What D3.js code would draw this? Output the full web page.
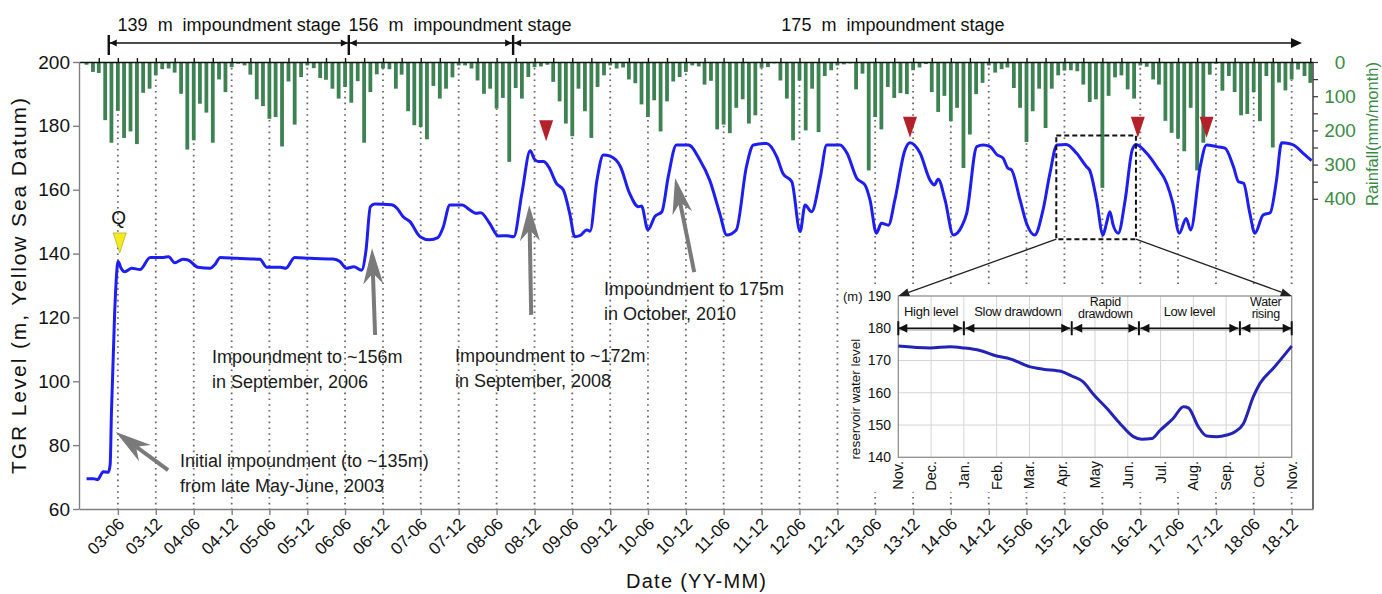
<!DOCTYPE html>
<html>
<head>
<meta charset="utf-8">
<script src="https://cdn.jsdelivr.net/npm/d3@7"></script>
<style>
  body { margin: 0; background: #fff; }
  svg { font-family: "Liberation Sans", Arial, sans-serif; }
</style>
</head>
<body>
<div id="svg-area"></div>
<script>
// monthly rainfall (mm/month), Jan 2003 .. Mar 2019, one row per year
var rainfall = [
    8, 29, 32, 170, 236, 143, 222, 203, 240, 90, 78, 39,      // 2003
    21, 19, 31, 93, 256, 229, 122, 148, 236, 51, 88, 15,      // 2004
    5, 10, 37, 109, 129, 166, 161, 247, 57, 183, 44, 10,      // 2005
    18, 47, 52, 78, 107, 73, 119, 56, 236, 88, 36, 19,        // 2006
    21, 78, 37, 144, 185, 190, 226, 70, 107, 78, 45, 10,      // 2007
    10, 19, 54, 93, 78, 136, 105, 292, 76, 107, 44, 15,       // 2008
    13, 8, 58, 115, 180, 217, 78, 144, 222, 73, 39, 10,       // 2009
    19, 16, 51, 62, 124, 161, 112, 203, 115, 57, 44, 29,      // 2010
    10, 13, 66, 55, 197, 183, 208, 134, 109, 180, 156, 17,    // 2011
    15, 4, 54, 107, 229, 54, 200, 78, 205, 41, 24, 10,        // 2012
    7, 4, 80, 34, 317, 161, 197, 73, 105, 91, 94, 24,         // 2013
    16, 6, 88, 146, 99, 173, 134, 310, 212, 94, 61, 10,       // 2014
    31, 21, 16, 76, 134, 234, 144, 78, 193, 78, 39, 25,       // 2015
    24, 27, 66, 117, 109, 368, 99, 45, 39, 80, 107, 10,       // 2016
    14, 51, 66, 172, 207, 224, 261, 134, 317, 236, 37, 5,     // 2017
    84, 41, 88, 156, 152, 88, 173, 41, 250, 60, 83, 51,       // 2018
    22, 41, 61                                                // 2019
];

// reservoir level: [months since Jan 2003, level (m)]
var levelPoints = [
    [0, 69.5], [1.1, 69.5], [1.8, 69.2], [2.7, 71.7], [3.5, 71.5], [3.8, 74], [4.0, 90],
    [4.5, 121.4], [5.05, 137.5], [5.5, 135.5], [6.1, 134.3], [7.2, 135.4], [8.5, 135.0],
    [10.1, 138.8], [12.2, 138.8], [13.0, 139.0], [14.0, 137.1], [15.3, 138.2], [16.1, 138.0],
    [17.7, 135.7], [19.6, 135.4], [20.3, 136.5], [21.2, 138.8], [23.8, 138.5], [27.5, 138.2],
    [28.6, 135.7], [30.7, 135.7], [31.6, 135.4], [33.0, 138.8], [35.4, 138.5], [39.1, 138.3],
    [40.2, 137.5], [41.2, 135.4], [42.4, 135.9], [43.6, 134.8], [44.3, 141], [45.0, 154.7],
    [45.7, 155.5], [48.3, 155.3], [49.2, 154.2], [50.2, 151.6], [51.3, 150], [52.9, 145.3],
    [54.4, 144.3], [55.7, 145], [56.5, 148], [57.6, 155.2], [59.6, 155.2], [60.5, 154],
    [61.8, 152.6], [62.5, 152.8], [63.9, 149.5], [65.3, 145.5], [66.6, 145.6], [67.7, 145.3],
    [69.0, 158.9], [70.3, 172.2], [71.0, 169.5], [71.6, 168.8], [72.4, 168.8], [73.2, 167.2],
    [74.5, 162], [75.6, 159.9], [76.6, 152.6], [77.4, 145.3], [78.2, 145.6], [79.3, 147.4],
    [79.8, 147], [80.9, 163], [81.9, 170.9], [83.0, 170.5], [84.6, 167.2], [86.1, 158.9],
    [87.5, 154.7], [88.0, 154.9], [89.0, 147.4], [90.1, 151.6], [91.2, 153.1], [92.2, 164.1],
    [93.5, 174], [95.4, 174], [97.2, 169.3], [98.8, 163], [100.4, 152.6], [101.5, 145.8],
    [103.0, 147.4], [104.6, 167.2], [105.7, 174], [107.8, 174.5], [109.4, 170.3], [110.4, 165.1],
    [111.8, 162.5], [113.1, 146.9], [113.9, 155.2], [114.9, 153.1], [116.3, 164.1], [117.3, 174],
    [119.4, 174], [120.5, 171.4], [122.1, 163.6], [123.4, 161.5], [124.2, 156.8], [125.2, 146.4],
    [126.0, 149.5], [127.1, 148.9], [128.1, 156.8], [129.7, 172.4], [130.5, 174.7], [132.1, 171.4],
    [133.7, 163], [134.4, 161.5], [135.0, 163.3], [136.1, 156.8], [137.4, 145.8], [138.7, 148.4],
    [139.5, 152.6], [141.1, 173.5], [142.1, 174], [143.2, 173.5], [144.3, 170.9], [145.2, 170],
    [146.1, 166.7], [146.6, 166.3], [148.0, 156.8], [149.0, 149.5], [150.3, 145.8], [151.6, 153.6],
    [152.7, 165.1], [153.8, 174], [155.3, 174.2], [156.9, 171.4], [158.5, 167.2], [159.0, 166.1],
    [160.1, 156.8], [161.1, 145.8], [161.6, 149], [162.2, 153.1], [162.7, 149], [163.5, 146.4],
    [164.6, 156.8], [165.7, 172.4], [166.3, 174.2], [168.0, 171.4], [169.6, 167.2], [171.2, 162],
    [172.2, 155.7], [173.2, 146.4], [174.3, 151], [175.0, 147.4], [176.5, 167.2], [177.5, 174],
    [179.1, 173.5], [180.4, 173], [181.8, 167.2], [182.6, 162.5], [183.4, 162], [184.4, 152.6],
    [185.2, 146.4], [186.5, 152.1], [187.6, 152.8], [188.6, 163], [189.4, 174.7], [190.7, 174.4],
    [191.3, 174], [192.8, 171.4], [194.2, 169.1]
];

// inset: one hydrological year, [months since Nov 2015, level (m)]
var insetPoints = [
    [0, 174.5], [0.97, 173.9], [1.58, 174.3], [2.0, 173.9], [2.49, 173.1], [3.0, 171.4],
    [3.41, 170.5], [4.0, 168.1], [4.42, 167.3], [4.98, 166.6], [5.29, 165.2], [5.64, 163.4],
    [5.97, 159.3], [6.36, 155.2], [6.76, 150.5], [7.17, 146.4], [7.42, 145.6], [7.73, 145.8],
    [7.98, 148.3], [8.39, 152.1], [8.7, 155.7], [8.85, 155.3], [9.15, 149.5], [9.41, 146.6],
    [9.71, 146.4], [10.02, 146.9], [10.27, 147.9], [10.53, 150.5], [10.83, 158.8], [11.03, 162.9],
    [11.44, 167.6], [12, 174.5]
];
var insetMonths = ["Nov.", "Dec.", "Jan.", "Feb.", "Mar.", "Apr.", "May", "Jun.", "Jul.", "Aug.", "Sep.", "Oct.", "Nov."];
var phaseBounds = [0, 2, 5.29, 7.34, 10.42, 12];
var phaseLabels = [["High level"], ["Slow drawdown"], ["Rapid", "drawdown"], ["Low level"], ["Water", "rising"]];

// impoundment stages (months since Jan 2003)
var stageLabels = ["139  m  impoundment stage", "156  m  impoundment stage", "175  m  impoundment stage"];
var stageBounds = [3.57, 41.6, 67.6, 192.6];
var stageLabelPos = [22.6, 59.2, 127.8];

// markers: [month, level at tip]
var redMarkers = [[72.8, 175.2], [130.5, 176.3], [166.6, 176.3], [177.5, 176.3]];
var yellowMarker = [5.3, 140.2];

// ---------------------------------------------------------------
var svgWidth = 1382;
var svgHeight = 594;
var plot = { left: 79, right: 1313, top: 62, bottom: 509 };

var svg = d3.select("#svg-area").append("svg")
    .attr("width", svgWidth)
    .attr("height", svgHeight);

// month index -> Date
function monthDate(t) {
    var m = Math.floor(t);
    var a = new Date(2003, m, 1), b = new Date(2003, m + 1, 1);
    return new Date(+a + (t - m) * (b - a));
}

var x = d3.scaleTime()
    .domain([monthDate(-1.18), monthDate(194.42)])
    .range([plot.left, plot.right]);
var yLevel = d3.scaleLinear().domain([60, 200]).range([plot.bottom, plot.top]);
var yRain = d3.scaleLinear().domain([0, 1307]).range([plot.top, plot.bottom]);
var xm = t => x(monthDate(t));

var halfYearTicks = d3.range(5, 192, 6).map(monthDate);

// dotted guides
svg.append("g").selectAll("line")
    .data(halfYearTicks)
    .enter().append("line")
    .attr("x1", d => x(d)).attr("x2", d => x(d))
    .attr("y1", plot.top).attr("y2", plot.bottom)
    .attr("stroke", "#666")
    .attr("stroke-width", 1.8)
    .attr("stroke-dasharray", "1.6 4.2");

// rainfall bars
svg.append("g").selectAll("rect")
    .data(rainfall)
    .enter().append("rect")
    .attr("x", (d, i) => xm(i) - 1.9)
    .attr("y", plot.top)
    .attr("width", 3.8)
    .attr("height", d => yRain(d) - plot.top)
    .attr("fill", "#3e8253");

// top axis
svg.append("g")
    .attr("transform", `translate(0, ${plot.top})`)
    .call(d3.axisTop(x).tickValues(d3.range(2, 195, 3).map(monthDate)).tickSize(4).tickSizeOuter(0).tickFormat(""))
    .call(g => g.selectAll("path, line").attr("stroke", "#111").attr("stroke-width", 1.4));

// left axis
svg.append("g")
    .attr("transform", `translate(${plot.left}, 0)`)
    .call(d3.axisLeft(yLevel).tickValues(d3.range(60, 201, 20)).tickSize(6).tickSizeOuter(0))
    .call(g => g.selectAll("path, line").attr("stroke", "#808080").attr("stroke-width", 1.4))
    .call(g => g.selectAll("text").attr("font-size", 19).attr("fill", "#111").attr("x", -9));

// bottom axis
svg.append("g")
    .attr("transform", `translate(0, ${plot.bottom})`)
    .call(d3.axisBottom(x).tickValues(halfYearTicks).tickSize(6).tickSizeOuter(0).tickFormat(d3.timeFormat("%y-%m")))
    .call(g => g.selectAll("path, line").attr("stroke", "#808080").attr("stroke-width", 1.4))
    .call(g => g.selectAll("text")
        .attr("font-size", 17)
        .attr("fill", "#111")
        .attr("text-anchor", "end")
        .attr("y", 0).attr("dy", 0)
        .attr("transform", "translate(7, 16) rotate(-45)"));

// right axis
svg.append("line")
    .attr("x1", plot.right).attr("x2", plot.right)
    .attr("y1", plot.top).attr("y2", plot.bottom)
    .attr("stroke", "#333").attr("stroke-width", 1.4);
svg.append("g")
    .attr("transform", `translate(${plot.right}, 0)`)
    .call(d3.axisRight(yRain).tickValues(d3.range(0, 401, 50)).tickSize(5)
        .tickFormat(d => d % 100 === 0 ? d : ""))
    .call(g => g.select(".domain").remove())
    .call(g => g.selectAll("line").attr("stroke", "#333").attr("stroke-width", 1.2))
    .call(g => g.selectAll("text").attr("font-size", 19).attr("fill", "#3c8a45")
        .attr("text-anchor", "middle").attr("x", 27));

// axis titles
svg.append("text")
    .attr("transform", "translate(26, 286) rotate(-90)")
    .attr("text-anchor", "middle")
    .attr("font-size", 21)
    .attr("fill", "#111")
    .attr("textLength", 376)
    .attr("lengthAdjust", "spacing")
    .text("TGR Level (m, Yellow Sea Datum)");

svg.append("text")
    .attr("x", 696).attr("y", 588)
    .attr("text-anchor", "middle")
    .attr("font-size", 20)
    .attr("fill", "#111")
    .attr("textLength", 140)
    .attr("lengthAdjust", "spacing")
    .text("Date (YY-MM)");

svg.append("text")
    .attr("transform", "translate(1378, 134) rotate(-90)")
    .attr("text-anchor", "middle")
    .attr("font-size", 16.5)
    .attr("fill", "#3c8a45")
    .text("Rainfall(mm/month)");

// water level line
var levelLine = d3.line()
    .x(d => xm(d[0]))
    .y(d => yLevel(d[1]))
    .curve(d3.curveMonotoneX);

svg.append("path")
    .datum(levelPoints)
    .attr("d", levelLine)
    .attr("fill", "none")
    .attr("stroke", "#1e1eef")
    .attr("stroke-width", 3)
    .attr("stroke-linejoin", "round");

// triangle markers (tip pointing down)
function downTriangle(cx, tipY, w, h) {
    return `M${cx},${tipY} L${cx - w / 2},${tipY - h} L${cx + w / 2},${tipY - h} Z`;
}
svg.append("g").selectAll("path")
    .data(redMarkers)
    .enter().append("path")
    .attr("d", d => downTriangle(xm(d[0]), yLevel(d[1]), 14, 21))
    .attr("fill", "#b3222a");

svg.append("path")
    .attr("d", downTriangle(xm(yellowMarker[0]), yLevel(yellowMarker[1]), 13, 20))
    .attr("fill", "#f4ea1c")
    .attr("stroke", "#9a9a30")
    .attr("stroke-width", 0.6);
svg.append("text")
    .attr("x", xm(yellowMarker[0]) - 1).attr("y", 224)
    .attr("text-anchor", "middle")
    .attr("font-size", 19)
    .attr("fill", "#111")
    .text("Q");

// stage arrows along the top
var stageG = svg.append("g").attr("fill", "#111").attr("stroke", "#111");
stageG.append("line")
    .attr("x1", xm(stageBounds[0])).attr("x2", xm(stageBounds[3]) - 8)
    .attr("y1", 43).attr("y2", 43)
    .attr("stroke-width", 1.6);
[0, 1, 2].forEach(function (i) {
    stageG.append("line")
        .attr("x1", xm(stageBounds[i])).attr("x2", xm(stageBounds[i]))
        .attr("y1", 35).attr("y2", 55)
        .attr("stroke-width", 2.4);
});
function sideHead(tipX, tipY, dir, len, half) {
    return `M${tipX},${tipY} L${tipX - dir * len},${tipY - half} L${tipX - dir * len},${tipY + half} Z`;
}
var stageHeads = [[xm(stageBounds[0]) + 1, -1], [xm(stageBounds[1]) - 1, 1], [xm(stageBounds[1]) + 1, -1],
    [xm(stageBounds[2]) - 1, 1], [xm(stageBounds[2]) + 1, -1]];
stageHeads.forEach(function (h) {
    stageG.append("path").attr("d", sideHead(h[0], 43, h[1], 7, 3.5)).attr("stroke", "none");
});
stageG.append("path").attr("d", sideHead(xm(stageBounds[3]), 43, 1, 11, 5)).attr("stroke", "none");

svg.append("g").selectAll("text")
    .data(stageLabels)
    .enter().append("text")
    .attr("x", (d, i) => xm(stageLabelPos[i]))
    .attr("y", 31)
    .attr("text-anchor", "middle")
    .attr("font-size", 18)
    .attr("fill", "#111")
    .style("white-space", "pre")
    .text(d => d);

// grey annotation arrows, endpoints in [month, level]
var notes = [
    { tail: [12.92, 72.2], tip: [4.68, 84.1], lines: ["Initial impoundment (to ~135m)", "from late May-June, 2003"], at: [180, 467] },
    { tail: [45.74, 114.5], tip: [45.26, 141.7], lines: ["Impoundment to ~156m", "in September, 2006"], at: [212, 363] },
    { tail: [70.46, 120.8], tip: [70.15, 155.2], lines: ["Impoundment to ~172m", "in September, 2008"], at: [455, 362] },
    { tail: [96.3, 134.2], tip: [93.29, 163.7], lines: ["Impoundment to 175m", "in October, 2010"], at: [604, 295] }
];
notes.forEach(function (n) {
    var p0 = [xm(n.tail[0]), yLevel(n.tail[1])];
    var p1 = [xm(n.tip[0]), yLevel(n.tip[1])];
    var dx = p1[0] - p0[0], dy = p1[1] - p0[1], len = Math.hypot(dx, dy);
    var ux = dx / len, uy = dy / len, px = -uy, py = ux;
    var headLen = 36, headW = 10, notch = 25;
    var bx = p1[0] - ux * headLen, by = p1[1] - uy * headLen;
    var nx = p1[0] - ux * notch, ny = p1[1] - uy * notch;
    svg.append("line")
        .attr("x1", p0[0]).attr("y1", p0[1]).attr("x2", nx).attr("y2", ny)
        .attr("stroke", "#7a7a7a").attr("stroke-width", 4);
    svg.append("path")
        .attr("d", `M${p1[0]},${p1[1]} L${bx + px * headW},${by + py * headW} L${nx},${ny} L${bx - px * headW},${by - py * headW} Z`)
        .attr("fill", "#7a7a7a");
    var t = svg.append("text")
        .attr("x", n.at[0]).attr("y", n.at[1])
        .attr("font-size", 18)
        .attr("fill", "#1a1a1a");
    n.lines.forEach(function (s, i) {
        t.append("tspan").attr("x", n.at[0]).attr("dy", i === 0 ? 0 : 24.5).text(s);
    });
});

// dashed box around the detailed year
var boxL = xm(153.7), boxR = xm(166.3), boxT = yLevel(177), boxB = yLevel(144.5);
svg.append("rect")
    .attr("x", boxL).attr("y", boxT)
    .attr("width", boxR - boxL).attr("height", boxB - boxT)
    .attr("fill", "none")
    .attr("stroke", "#111")
    .attr("stroke-width", 2)
    .attr("stroke-dasharray", "5 3");

//////// Inset ////////
var xi = d3.scaleLinear().domain([0, 12]).range([898.3, 1291.7]);
var yi = d3.scaleLinear().domain([140, 190]).range([457.3, 296]);

svg.append("rect")
    .attr("x", 840).attr("y", 284)
    .attr("width", 462).attr("height", 208)
    .attr("fill", "#fff");

var inset = svg.append("g");

// grid
inset.append("g").selectAll("line")
    .data(d3.range(1, 12))
    .enter().append("line")
    .attr("x1", d => xi(d)).attr("x2", d => xi(d))
    .attr("y1", yi(190)).attr("y2", yi(140))
    .attr("stroke", "#d4d4d4").attr("stroke-width", 1);
inset.append("g").selectAll("line")
    .data(d3.range(150, 190, 10))
    .enter().append("line")
    .attr("x1", xi(0)).attr("x2", xi(12))
    .attr("y1", d => yi(d)).attr("y2", d => yi(d))
    .attr("stroke", "#d4d4d4").attr("stroke-width", 1);

inset.append("rect")
    .attr("x", xi(0)).attr("y", yi(190))
    .attr("width", xi(12) - xi(0)).attr("height", yi(140) - yi(190))
    .attr("fill", "none")
    .attr("stroke", "#909090")
    .attr("stroke-width", 1.3);

// y ticks
inset.append("g").selectAll("text")
    .data(d3.range(140, 191, 10))
    .enter().append("text")
    .attr("x", 891).attr("y", d => yi(d))
    .attr("dy", "0.35em")
    .attr("text-anchor", "end")
    .attr("font-size", 14)
    .attr("fill", "#111")
    .text(d => d);
inset.append("text")
    .attr("x", 843).attr("y", yi(190)).attr("dy", "0.35em")
    .attr("font-size", 13)
    .attr("fill", "#111")
    .text("(m)");
inset.append("text")
    .attr("transform", `translate(860, ${(yi(140) + yi(176)) / 2}) rotate(-90)`)
    .attr("text-anchor", "middle")
    .attr("font-size", 13.5)
    .attr("fill", "#111")
    .text("reservoir water level");

// month labels
inset.append("g").selectAll("text")
    .data(insetMonths)
    .enter().append("text")
    .attr("transform", (d, i) => `translate(${xi(i) + 5}, 461) rotate(-90)`)
    .attr("text-anchor", "end")
    .attr("font-size", 14.5)
    .attr("fill", "#111")
    .text(d => d);

// phases
var phaseY = yi(180);
inset.append("line")
    .attr("x1", xi(0)).attr("x2", xi(12))
    .attr("y1", phaseY + 1.5).attr("y2", phaseY + 1.5)
    .attr("stroke", "#bbb").attr("stroke-width", 2);
phaseBounds.slice(0, -1).forEach(function (a, i) {
    var b = phaseBounds[i + 1];
    var xa = xi(a) + (i === 0 ? 0 : 1.5), xb = xi(b) - (i === 4 ? 0 : 1.5);
    inset.append("line")
        .attr("x1", xa).attr("x2", xb)
        .attr("y1", phaseY).attr("y2", phaseY)
        .attr("stroke", "#111").attr("stroke-width", 1.6);
    inset.append("path").attr("d", sideHead(xa, phaseY, -1, 9, 4.5)).attr("fill", "#111");
    inset.append("path").attr("d", sideHead(xb, phaseY, 1, 9, 4.5)).attr("fill", "#111");
    var lines = phaseLabels[i];
    lines.forEach(function (s, j) {
        inset.append("text")
            .attr("x", xi((a + b) / 2))
            .attr("y", lines.length === 1 ? 316 : 306 + j * 12)
            .attr("text-anchor", "middle")
            .attr("font-size", lines.length === 1 ? 13 : 12.5)
            .attr("fill", "#111")
            .style("letter-spacing", "-0.3px")
            .text(s);
    });
});
phaseBounds.forEach(function (b) {
    inset.append("line")
        .attr("x1", xi(b)).attr("x2", xi(b))
        .attr("y1", phaseY - 7).attr("y2", phaseY + 7)
        .attr("stroke", "#111").attr("stroke-width", 2);
});

inset.append("path")
    .datum(insetPoints)
    .attr("d", d3.line().x(d => xi(d[0])).y(d => yi(d[1])).curve(d3.curveMonotoneX))
    .attr("fill", "none")
    .attr("stroke", "#2424b4")
    .attr("stroke-width", 3);

// connectors from the dashed box to the inset
function connector(x0, y0, x1, y1) {
    var dx = x1 - x0, dy = y1 - y0, len = Math.hypot(dx, dy);
    var ux = dx / len, uy = dy / len;
    var bx = x1 - ux * 11, by = y1 - uy * 11;
    svg.append("line")
        .attr("x1", x0).attr("y1", y0).attr("x2", bx).attr("y2", by)
        .attr("stroke", "#222").attr("stroke-width", 1.3);
    svg.append("path")
        .attr("d", `M${x1},${y1} L${bx - uy * 4},${by + ux * 4} L${bx + uy * 4},${by - ux * 4} Z`)
        .attr("fill", "#222");
}
connector(boxL, boxB, xi(0), yi(190));
connector(boxR, boxB, xi(12), yi(190));
</script>
</body>
</html>
